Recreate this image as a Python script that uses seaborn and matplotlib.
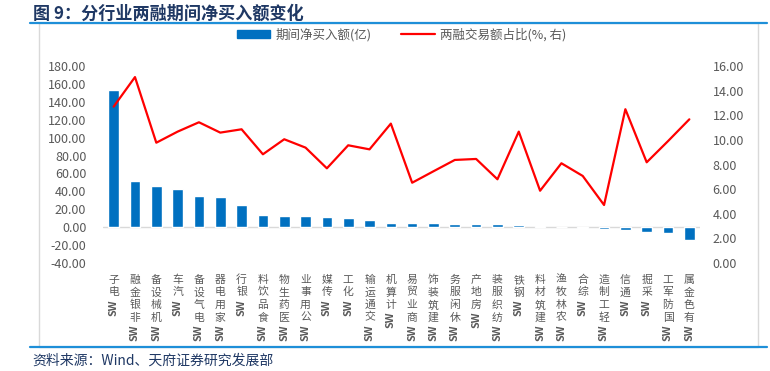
import numpy as np
import pandas as pd
import matplotlib
matplotlib.use('Agg')
import matplotlib.pyplot as plt
import seaborn as sns
from matplotlib.lines import Line2D
from matplotlib.patches import Patch, Rectangle

# 数据（从原图读取，估计值）
industries = ['SW电子', 'SW非银金融', 'SW机械设备', 'SW汽车', 'SW电气设备', 'SW家用电器',
              'SW银行', 'SW食品饮料', 'SW医药生物', 'SW公用事业', 'SW传媒', 'SW化工',
              'SW交通运输', 'SW计算机', 'SW商业贸易', 'SW建筑装饰', 'SW休闲服务', 'SW房地产',
              'SW纺织服装', 'SW钢铁', 'SW建筑材料', 'SW农林牧渔', 'SW综合', 'SW轻工制造',
              'SW通信', 'SW采掘', 'SW国防军工', 'SW有色金属']
net_buy = [153.0, 51.5, 45.5, 42.5, 35.0, 33.6, 25.3, 13.4, 13.0, 12.3, 11.2, 10.4,
           8.0, 5.2, 4.8, 4.5, 4.1, 3.7, 3.0, 1.9, 1.1, 0.7, -1.2, -1.8,
           -3.2, -5.8, -6.8, -14.8]
share = [12.7, 15.1, 9.77, 10.67, 11.43, 10.59, 10.86, 8.83, 10.05, 9.37, 7.69, 9.56,
         9.23, 11.32, 6.52, 7.45, 8.37, 8.45, 6.8, 10.67, 5.87, 8.1, 7.07, 4.71,
         12.49, 8.18, 9.9, 11.67]
left_ticks = list(range(-40, 181, 20))
right_ticks = list(range(0, 17, 2))

df = pd.DataFrame({'行业': industries, '净买入': net_buy, '占比': share})

sns.set_theme(style='white')
plt.rcParams['font.family'] = ['Noto Sans CJK SC', 'DejaVu Sans']
plt.rcParams['axes.unicode_minus'] = False

gray = '#595959'
navy = '#1F3864'
blue_line = '#1E8FD8'

fig = plt.figure(figsize=(7.7, 3.71), dpi=100)
ax = fig.add_axes([103 / 770, 1 - 263 / 371, 597 / 770, 197 / 371])

sns.barplot(data=df, x='行业', y='净买入', color='#0070C0', width=0.5,
            saturation=1, ax=ax)
ax2 = ax.twinx()
sns.lineplot(x=np.arange(len(df)), y=df['占比'], color='#FF0000', lw=1.6, ax=ax2)

ax.set_xlim(-0.5, len(df) - 0.5)
ax.set_ylim(-40, 180)
ax2.set_ylim(0, 16)
ax.set_yticks(left_ticks)
ax.set_yticklabels([f'{v:.2f}' for v in left_ticks])
ax2.set_yticks(right_ticks)
ax2.set_yticklabels([f'{v:.2f}' for v in right_ticks])
ax.set_xticks(range(len(df)))
ax.set_xticklabels([])
for a in (ax, ax2):
    a.set_xlabel('')
    a.set_ylabel('')
    for s in a.spines.values():
        s.set_visible(False)
ax.tick_params(axis='y', length=0, pad=12, labelsize=9, labelcolor=gray)
ax2.tick_params(axis='y', length=0, pad=9, labelsize=9, labelcolor=gray)
ax.tick_params(axis='x', length=0)
ax.axhline(0, color='#D9D9D9', lw=1, zorder=0)

# 竖排的行业标签：汉字直立堆叠，SW旋转
xform = ax.get_xaxis_transform()
top_pad = 8.4
step = 9.1
for i, name in enumerate(industries):
    chars = list(name[2:])[::-1]
    for k, ch in enumerate(chars):
        ax.annotate(ch, xy=(i, 0), xycoords=xform, xytext=(0, -top_pad - k * step),
                    textcoords='offset points', ha='center', va='top',
                    fontsize=7.8, color=gray, annotation_clip=False)
    ax.annotate('SW', xy=(i, 0), xycoords=xform,
                xytext=(0, -top_pad - len(chars) * step + 0.5),
                textcoords='offset points', ha='center', va='top', rotation=90,
                fontsize=7.8, fontweight='bold', color=gray, annotation_clip=False)

handles = [Patch(color='#0070C0'), Line2D([], [], color='#FF0000', lw=1.6)]
labels = ['期间净买入额(亿)', '两融交易额占比(%, 右)']
ax.legend(handles, labels, loc='center', bbox_to_anchor=(0.5, 1.16), ncol=2,
          frameon=False, fontsize=9, labelcolor=gray, handlelength=2.7,
          handleheight=0.55, columnspacing=2.4, handletextpad=0.4)

# 标题、来源和边框
fig.text(33 / 770, 1 - 14 / 371, '图 9：分行业两融期间净买入额变化', fontsize=12.3,
         fontweight='bold', color=navy, va='center', ha='left')
fig.text(32 / 770, 1 - 361 / 371, '资料来源：Wind、天府证券研究发展部', fontsize=10,
         color=navy, va='center', ha='left')
fig.add_artist(Rectangle((39 / 770, 1 - 347 / 371), 719 / 770, 324 / 371,
                         transform=fig.transFigure, fill=False, ec='#D9D9D9', lw=1))
for y in (23, 347):
    fig.add_artist(Line2D([30 / 770, 767 / 770], [1 - y / 371, 1 - y / 371],
                          transform=fig.transFigure, color=blue_line, lw=1.6))

fig.savefig('out.png', dpi=100)
